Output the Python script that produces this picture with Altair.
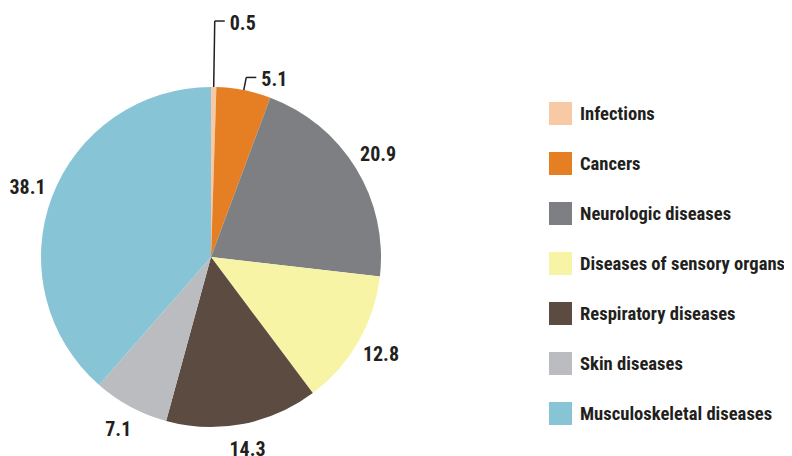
import math
import altair as alt
import pandas as pd

categories = ["Infections", "Cancers", "Neurologic diseases", "Diseases of sensory organs",
              "Respiratory diseases", "Skin diseases", "Musculoskeletal diseases"]
values = [0.5, 5.1, 20.9, 12.8, 14.3, 7.1, 38.1]
colors = ["#f7c9a5", "#e67f24", "#7e7f83", "#f8f4a6", "#5b4b41", "#bbbcc0", "#87c5d6"]
small_labels = ["0.5", "5.1"]

FONT = "'Roboto Condensed', 'Noto Sans Condensed', 'DejaVu Sans Condensed', 'Liberation Sans Narrow', Roboto, sans-serif"
TXT = "#231f20"
CX, CY, R = 203, 249, 170
LEADER_OUT = {"0.5": 236, "5.1": 183}

df = pd.DataFrame({"category": categories, "value": values, "order": range(len(values))})
df["label"] = [f"{v:.1f}" for v in values]
df["label_main"] = [l if l not in small_labels else "" for l in df["label"]]
df["label_a"] = [l if l == "0.5" else "" for l in df["label"]]
df["label_b"] = [l if l == "5.1" else "" for l in df["label"]]

# leader lines, derived from the stacked angles of the data
total = sum(values)
segs = []
cum = 0.0
for lab, v in zip(df["label"], values):
    mid = 2 * math.pi * (cum + v / 2) / total
    cum += v
    if lab in LEADER_OUT:
        ro = LEADER_OUT[lab]
        x1, y1 = CX + R * math.sin(mid), CY - R * math.cos(mid)
        x2, y2 = CX + ro * math.sin(mid), CY - ro * math.cos(mid)
        segs.append({"x": x1, "y": y1, "x2": x2, "y2": y2})
        segs.append({"x": x2, "y": y2, "x2": x2 + 10, "y2": y2})
seg_df = pd.DataFrame(segs)

color_scale = alt.Scale(domain=categories, range=colors)

base = alt.Chart(df).encode(
    theta=alt.Theta("value:Q", stack=True),
    order=alt.Order("order:Q", sort="ascending"),
    x=alt.value(CX),
    y=alt.value(CY),
)

pie = base.mark_arc(outerRadius=R, stroke=None).encode(
    color=alt.Color(
        "category:N",
        scale=color_scale,
        sort=categories,
        legend=alt.Legend(
            title=None,
            orient="none",
            legendX=541,
            legendY=94,
            symbolType="square",
            symbolSize=529,
            symbolStrokeWidth=0,
            symbolOpacity=1,
            labelFont=FONT,
            labelFontSize=18.6,
            labelFontWeight="bold",
            labelColor=TXT,
            labelOffset=8,
            rowPadding=27,
            labelLimit=400,
        ),
    )
)

txt_style = dict(font=FONT, fontSize=20, fontWeight="bold", color=TXT)

labels_main = base.mark_text(radius=196, align="center", baseline="middle", **txt_style).encode(
    text="label_main:N"
)
labels_a = base.mark_text(radius=LEADER_OUT["0.5"], align="left", baseline="middle",
                          dx=15, dy=3, **txt_style).encode(text="label_a:N")
labels_b = base.mark_text(radius=LEADER_OUT["5.1"], align="left", baseline="middle",
                          dx=15, dy=3, **txt_style).encode(text="label_b:N")

leaders = alt.Chart(seg_df).mark_rule(color=TXT, strokeWidth=1.5).encode(
    x=alt.X("x:Q", scale=None),
    y=alt.Y("y:Q", scale=None),
    x2="x2:Q",
    y2="y2:Q",
)

chart = alt.layer(pie, leaders, labels_main, labels_a, labels_b).properties(
    width=776,
    height=448,
    autosize=alt.AutoSizeParams(type="none"),
    padding=0,
    background="white",
).configure_view(stroke=None)

chart.save("out.html", embed_options={"renderer": "svg", "actions": False})
